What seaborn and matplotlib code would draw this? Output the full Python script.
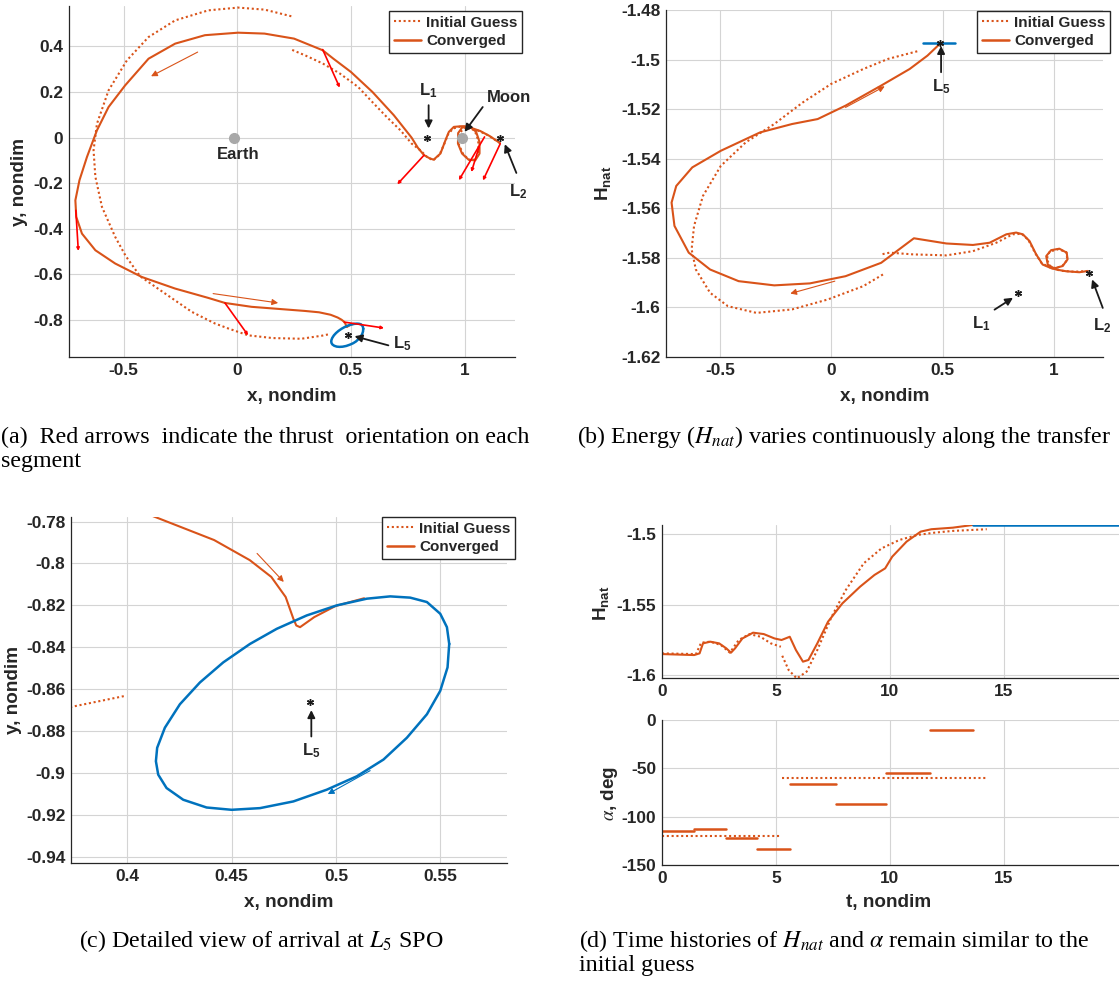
import numpy as np
import pandas as pd
import seaborn as sns
import matplotlib.pyplot as plt
from matplotlib.lines import Line2D

ORANGE = "#D95319"
BLUE = "#0072BD"
RED = "#FF0000"
DARK = "#262626"

# ---------------- data ----------------
# (a) converged transfer, x-y plane, from L2 to the L5 SPO
conv_x = [1.156, 1.112, 1.069, 1.025, 0.990, 0.972, 0.971, 0.989, 1.018, 1.047,
          1.066, 1.066, 1.051, 1.025, 0.989, 0.953, 0.931, 0.916, 0.894, 0.864,
          0.845, 0.822, 0.795, 0.767, 0.689, 0.595, 0.500, 0.423, 0.376, 0.250,
          0.120, 0.004, -0.142, -0.273, -0.390, -0.493, -0.566, -0.617, -0.661, -0.694,
          -0.712, -0.708, -0.683, -0.624, -0.537, -0.420, -0.273, -0.127, -0.054, 0.063,
          0.180, 0.297, 0.360, 0.4108, 0.4416, 0.4587, 0.4690, 0.4759, 0.4796, 0.4810,
          0.4828, 0.4896, 0.4998, 0.5135]
conv_y = [-0.024, 0.006, 0.029, 0.044, 0.045, 0.020, -0.026, -0.070, -0.097, -0.100,
          -0.070, -0.019, 0.025, 0.048, 0.050, 0.047, 0.025, -0.012, -0.070, -0.097,
          -0.090, -0.077, -0.045, 0.000, 0.098, 0.200, 0.288, 0.346, 0.383, 0.434,
          0.456, 0.460, 0.449, 0.412, 0.346, 0.229, 0.134, 0.032, -0.085, -0.187,
          -0.275, -0.348, -0.421, -0.494, -0.552, -0.611, -0.662, -0.703, -0.725, -0.742,
          -0.751, -0.760, -0.766, -0.7768, -0.7888, -0.7984, -0.8064, -0.8160, -0.8264, -0.8296,
          -0.8304, -0.8256, -0.8203, -0.8166]

# (a) initial guess, two arcs
guess1_x = [1.156, 1.100, 1.050, 1.000, 0.975, 0.975, 0.995, 1.025, 1.050, 1.062,
            1.060, 1.045, 1.015, 0.980, 0.950, 0.928, 0.912, 0.890, 0.862, 0.835,
            0.806, 0.767, 0.720, 0.657, 0.600, 0.532, 0.450, 0.376, 0.300, 0.238]
guess1_y = [-0.024, 0.012, 0.035, 0.045, 0.015, -0.030, -0.075, -0.100, -0.095, -0.060,
            -0.010, 0.030, 0.048, 0.048, 0.040, 0.015, -0.025, -0.075, -0.100, -0.085,
            -0.056, -0.026, 0.030, 0.091, 0.150, 0.222, 0.282, 0.325, 0.360, 0.386]
guess2_x = [0.238, 0.121, 0.004, -0.127, -0.273, -0.390, -0.485, -0.566, -0.617, -0.632,
            -0.624, -0.595, -0.537, -0.490, -0.427, -0.317, -0.200, -0.098, -0.039, 0.048,
            0.156, 0.282, 0.373, 0.399]
guess2_y = [0.532, 0.561, 0.570, 0.558, 0.514, 0.441, 0.339, 0.207, 0.061, -0.056,
            -0.172, -0.304, -0.435, -0.520, -0.608, -0.684, -0.764, -0.815, -0.837, -0.867,
            -0.879, -0.882, -0.8685, -0.8632]

# L5 short period orbit
spo_x = [0.5543, 0.5532, 0.5500, 0.5436, 0.5356, 0.5260, 0.5148, 0.5004, 0.4860, 0.4716,
         0.4588, 0.4460, 0.4348, 0.4252, 0.4180, 0.4143, 0.4137, 0.4148, 0.4188, 0.4268,
         0.4380, 0.4500, 0.4636, 0.4796, 0.4956, 0.5100, 0.5228, 0.5340, 0.5436, 0.5500,
         0.5535, 0.5543]
spo_y = [-0.8384, -0.8304, -0.8240, -0.8184, -0.8163, -0.8157, -0.8168, -0.8200, -0.8248, -0.8312,
         -0.8384, -0.8472, -0.8568, -0.8672, -0.8784, -0.8880, -0.8944, -0.9008, -0.9072, -0.9128,
         -0.9165, -0.9176, -0.9168, -0.9136, -0.9080, -0.9016, -0.8936, -0.8832, -0.8720, -0.8608,
         -0.8496, -0.8384]
spo_H = -1.4934

# thrust directions (red) on each converged segment
thrust_x0 = [0.376, 0.822, 1.157, 1.088, 1.064, -0.710, -0.054, 0.471]
thrust_y0 = [0.386, -0.077, -0.027, 0.003, -0.041, -0.319, -0.725, -0.809]
thrust_x1 = [0.451, 0.704, 1.081, 0.975, 1.030, -0.699, 0.048, 0.646]
thrust_y1 = [0.219, -0.205, -0.188, -0.187, -0.151, -0.497, -0.867, -0.835]

# libration points / primaries
L_x = {"L1": 0.8369, "L2": 1.1557, "L5": 0.4878}
L_y = {"L1": 0.0, "L2": 0.0, "L5": -0.866}
earth_x, moon_x = -0.0122, 0.9878

# (b) energy vs x
convH_x = [1.152, 1.114, 1.054, 1.009, 0.972, 0.965, 0.987, 1.024, 1.057, 1.061,
           1.039, 0.994, 0.949, 0.920, 0.890, 0.860, 0.830, 0.786, 0.711, 0.636,
           0.517, 0.371, 0.224, 0.064, -0.096, -0.256, -0.416, -0.544, -0.640, -0.704,
           -0.717, -0.696, -0.624, -0.496, -0.320, -0.176, -0.061, 0.064, 0.224, 0.352,
           0.432, 0.480, 0.493]
convH = [-1.5853, -1.5858, -1.5854, -1.5847, -1.5827, -1.5793, -1.5769, -1.5763, -1.5779, -1.5806,
         -1.5833, -1.5844, -1.5827, -1.5786, -1.5732, -1.5705, -1.5698, -1.5705, -1.5739, -1.5748,
         -1.5742, -1.5721, -1.5820, -1.5874, -1.5903, -1.5911, -1.5894, -1.5847, -1.5779, -1.5671,
         -1.5577, -1.5510, -1.5435, -1.5368, -1.5294, -1.5260, -1.5240, -1.5186, -1.5105, -1.5038,
         -1.4984, -1.4943, -1.4934]
guessH1_x = [1.152, 1.090, 1.030, 0.985, 0.967, 0.980, 1.020, 1.055, 1.060, 1.035,
             0.990, 0.945, 0.915, 0.885, 0.855, 0.815, 0.741, 0.636, 0.517, 0.367,
             0.262, 0.225]
guessH1 = [-1.5853, -1.5856, -1.5852, -1.5838, -1.5805, -1.5775, -1.5765, -1.5777, -1.5808, -1.5835,
           -1.5842, -1.5822, -1.5780, -1.5728, -1.5703, -1.5705, -1.5739, -1.5773, -1.5790, -1.5786,
           -1.5779, -1.5786]
guessH2_x = [0.232, 0.144, -0.016, -0.176, -0.336, -0.464, -0.544, -0.608, -0.627, -0.616,
             -0.576, -0.496, -0.384, -0.256, -0.128, 0.000, 0.144, 0.256, 0.397]
guessH2 = [-1.5867, -1.5914, -1.5968, -1.6008, -1.6022, -1.5995, -1.5941, -1.5847, -1.5766, -1.5671,
           -1.5550, -1.5429, -1.5334, -1.5260, -1.5173, -1.5098, -1.5038, -1.4997, -1.4964]
L_H = {"L1": -1.5941, "L2": -1.5860, "L5": -1.4934}

# (d) time histories
t_conv = [0.00, 1.41, 1.65, 1.80, 2.12, 2.51, 2.82, 3.03, 3.21, 3.53,
          4.00, 4.47, 4.94, 5.25, 5.61, 5.88, 6.19, 6.43, 6.82, 7.29,
          7.92, 8.70, 9.33, 9.80, 10.11, 10.74, 11.36, 11.83, 12.77, 13.64]
H_conv = [-1.5851, -1.5858, -1.5846, -1.5775, -1.5763, -1.5775, -1.5810, -1.5841, -1.5810, -1.5740,
          -1.5699, -1.5709, -1.5740, -1.5751, -1.5728, -1.5822, -1.5905, -1.5893, -1.5775, -1.5621,
          -1.5491, -1.5372, -1.5289, -1.5242, -1.5159, -1.5052, -1.4981, -1.4964, -1.4953, -1.4934]
t_guess1 = [0.00, 1.49, 1.72, 2.12, 2.59, 2.98, 3.37, 3.84, 4.31, 4.78, 5.22]
H_guess1 = [-1.5846, -1.5851, -1.5770, -1.5763, -1.5787, -1.5841, -1.5751, -1.5709, -1.5727, -1.5775, -1.5799]
t_guess2 = [5.28, 5.56, 5.92, 6.35, 6.82, 7.45, 8.07, 8.86, 9.64, 10.43, 11.21, 11.99, 12.77, 14.26]
H_guess2 = [-1.5863, -1.5964, -1.6024, -1.5976, -1.5822, -1.5585, -1.5396, -1.5206, -1.5100, -1.5040,
            -1.5005, -1.4988, -1.4976, -1.4964]
t_spo = [13.64, 22.0]

seg_t0 = [0.00, 1.41, 2.79, 4.18, 5.64, 7.63, 9.83, 11.76]
seg_t1 = [1.41, 2.79, 4.18, 5.64, 7.63, 9.83, 11.76, 13.64]
seg_alpha = [-115, -113, -122.5, -133, -66.5, -87, -55, -10]
gseg_t0 = [0.00, 5.28]
gseg_t1 = [5.22, 14.26]
gseg_alpha = [-120, -60]

# ---------------- style ----------------
sns.set_theme(style="whitegrid")
plt.rcParams["font.family"] = ["Liberation Sans", "DejaVu Sans"]
plt.rcParams["mathtext.fontset"] = "custom"
plt.rcParams["mathtext.rm"] = "Liberation Sans:bold"
plt.rcParams["mathtext.bf"] = "Liberation Sans:bold"
plt.rcParams["mathtext.it"] = "Liberation Sans:bold:italic"

W, H = 1119, 986
fig = plt.figure(figsize=(W / 100, H / 100), dpi=100)


def box(l, t, r, b):
    return [l / W, 1 - b / H, (r - l) / W, (b - t) / H]


def style(ax, xt, xl, yt, yl):
    ax.set_facecolor("white")
    ax.set_xticks(xt)
    ax.set_xticklabels(xl)
    ax.set_yticks(yt)
    ax.set_yticklabels(yl)
    ax.grid(True, color="#d4d4d4", lw=0.8)
    for s in ["top", "right"]:
        ax.spines[s].set_visible(False)
    for s in ["left", "bottom"]:
        ax.spines[s].set_color(DARK)
        ax.spines[s].set_linewidth(0.9)
    ax.tick_params(direction="in", length=3, width=0.6, colors=DARK,
                   labelsize=12.4, pad=4)
    for lab in ax.get_xticklabels() + ax.get_yticklabels():
        lab.set_fontweight("bold")


def line(ax, x, y, color, ls="-", lw=1.5):
    sns.lineplot(x=x, y=y, ax=ax, sort=False, estimator=None, color=color,
                 linestyle=ls, linewidth=lw, legend=False)


DOT = (0, (1, 1.3))


def legend(ax, right, top):
    h = [Line2D([], [], color=ORANGE, ls=DOT, lw=1.5),
         Line2D([], [], color=ORANGE, lw=1.8)]
    lg = ax.legend(h, ["Initial Guess", "Converged"], loc="upper right",
                   bbox_to_anchor=(right / W, 1 - top / H), bbox_transform=fig.transFigure,
                   fancybox=False, framealpha=1, edgecolor=DARK, fontsize=11,
                   handlelength=1.8, handletextpad=0.3, borderpad=0.3,
                   labelspacing=0.3, borderaxespad=0)
    lg.get_frame().set_linewidth(1.0)
    for t in lg.get_texts():
        t.set_fontweight("bold")


def arrow(ax, tail, head, color="k", lw=1.3, scale=11):
    ax.annotate("", xy=head, xytext=tail,
                arrowprops=dict(arrowstyle="-|>", color=color, lw=lw,
                                mutation_scale=scale, shrinkA=0, shrinkB=0))


def star(ax, x, y):
    ax.plot(x, y, marker=(6, 2, 0), ms=5, color="k", mew=1, ls="none")


def note(ax, x, y, s):
    ax.text(x, y, s, ha="center", va="center", fontsize=12, fontweight="bold")


xt_a = [-0.5, 0, 0.5, 1]
xl_a = ["-0.5", "0", "0.5", "1"]

# ---------------- (a) ----------------
ax = fig.add_axes(box(69, 6, 515, 357))
line(ax, guess1_x, guess1_y, ORANGE, DOT)
line(ax, guess2_x, guess2_y, ORANGE, DOT)
line(ax, conv_x, conv_y, ORANGE)
line(ax, spo_x, spo_y, BLUE, lw=1.8)
for x0, y0, x1, y1 in zip(thrust_x0, thrust_y0, thrust_x1, thrust_y1):
    ax.annotate("", xy=(x1, y1), xytext=(x0, y0),
                arrowprops=dict(arrowstyle="-|>", color=RED, lw=1.2,
                                mutation_scale=4, shrinkA=0, shrinkB=0))
ax.plot([earth_x, moon_x], [0, 0], "o", color="#a8a8a8", ms=7, zorder=5)
for k in ["L1", "L2", "L5"]:
    star(ax, L_x[k], L_y[k])
arrow(ax, (-0.174, 0.375), (-0.379, 0.269), ORANGE, lw=0.8, scale=9)
arrow(ax, (-0.106, -0.684), (0.180, -0.725), ORANGE, lw=0.8, scale=9)
note(ax, 0.003, -0.073, "Earth")
note(ax, 1.196, 0.175, "Moon")
arrow(ax, (1.08, 0.134), (1.0, 0.025))
note(ax, 0.842, 0.205, r"$\mathbf{L_1}$")
arrow(ax, (0.842, 0.142), (0.842, 0.04))
note(ax, 1.235, -0.235, r"$\mathbf{L_2}$")
arrow(ax, (1.228, -0.155), (1.177, -0.029))
note(ax, 0.725, -0.905, r"$\mathbf{L_5}$")
arrow(ax, (0.665, -0.911), (0.516, -0.871))
ax.set_xlim(-0.74, 1.222)
ax.set_ylim(-0.962, 0.577)
style(ax, xt_a, xl_a, [-0.8, -0.6, -0.4, -0.2, 0, 0.2, 0.4],
      ["-0.8", "-0.6", "-0.4", "-0.2", "0", "0.2", "0.4"])
legend(ax, 522, 11)

# ---------------- (b) ----------------
ax = fig.add_axes(box(666, 10, 1103, 357))
line(ax, guessH1_x, guessH1, ORANGE, DOT)
line(ax, guessH2_x, guessH2, ORANGE, DOT)
line(ax, convH_x, convH, ORANGE)
line(ax, [min(spo_x), max(spo_x)], [spo_H, spo_H], BLUE, lw=1.8)
for k in ["L1", "L2", "L5"]:
    star(ax, L_x[k], L_H[k])
arrow(ax, (0.064, -1.5193), (0.24, -1.5108), ORANGE, lw=0.8, scale=9)
arrow(ax, (0.016, -1.5894), (-0.184, -1.5944), ORANGE, lw=0.8, scale=9)
note(ax, 0.493, -1.5108, r"$\mathbf{L_5}$")
arrow(ax, (0.493, -1.5051), (0.493, -1.4945))
note(ax, 0.672, -1.6065, r"$\mathbf{L_1}$")
arrow(ax, (0.733, -1.6009), (0.816, -1.5961))
note(ax, 1.216, -1.6072, r"$\mathbf{L_2}$")
arrow(ax, (1.219, -1.6002), (1.171, -1.5887))
ax.set_xlim(-0.742, 1.22)
ax.set_ylim(-1.62, -1.48)
style(ax, xt_a, xl_a, [-1.62, -1.6, -1.58, -1.56, -1.54, -1.52, -1.5, -1.48],
      ["-1.62", "-1.6", "-1.58", "-1.56", "-1.54", "-1.52", "-1.5", "-1.48"])
legend(ax, 1110, 11)

# ---------------- (c) ----------------
ax = fig.add_axes(box(71, 517, 507, 863))
line(ax, guess2_x, guess2_y, ORANGE, DOT)
line(ax, conv_x, conv_y, ORANGE)
line(ax, spo_x, spo_y, BLUE, lw=1.8)
star(ax, L_x["L5"], L_y["L5"])
arrow(ax, (0.4622, -0.7952), (0.4750, -0.8088), ORANGE, lw=0.8, scale=9)
arrow(ax, (0.5164, -0.8989), (0.4961, -0.9101), BLUE, lw=0.8, scale=9)
note(ax, 0.4882, -0.8895, r"$\mathbf{L_5}$")
arrow(ax, (0.4882, -0.8826), (0.4882, -0.8700))
ax.set_xlim(0.373, 0.582)
ax.set_ylim(-0.943, -0.7778)
style(ax, [0.4, 0.45, 0.5, 0.55], ["0.4", "0.45", "0.5", "0.55"],
      [-0.94, -0.92, -0.9, -0.88, -0.86, -0.84, -0.82, -0.8, -0.78],
      ["-0.94", "-0.92", "-0.9", "-0.88", "-0.86", "-0.84", "-0.82", "-0.8", "-0.78"])
legend(ax, 515, 517)

# ---------------- (d) top ----------------
ax = fig.add_axes(box(662, 525, 1163, 678))
line(ax, t_guess1, H_guess1, ORANGE, DOT)
line(ax, t_guess2, H_guess2, ORANGE, DOT)
line(ax, t_conv, H_conv, ORANGE)
line(ax, t_spo, [spo_H, spo_H], BLUE, lw=1.8)
ax.set_xlim(0, 22)
ax.set_ylim(-1.6021, -1.4934)
style(ax, [0, 5, 10, 15], ["0", "5", "10", "15"], [-1.6, -1.55, -1.5],
      ["-1.6", "-1.55", "-1.5"])

# ---------------- (d) bottom ----------------
ax = fig.add_axes(box(662, 720, 1163, 865))
seg = pd.DataFrame({
    "t": seg_t0 + seg_t1,
    "alpha": seg_alpha + seg_alpha,
    "seg": list(range(len(seg_t0))) * 2,
})
gseg = pd.DataFrame({
    "t": gseg_t0 + gseg_t1,
    "alpha": gseg_alpha + gseg_alpha,
    "seg": list(range(len(gseg_t0))) * 2,
})
sns.lineplot(data=gseg, x="t", y="alpha", units="seg", estimator=None, ax=ax,
             color=ORANGE, linestyle=DOT, linewidth=1.5, legend=False)
sns.lineplot(data=seg, x="t", y="alpha", units="seg", estimator=None, ax=ax,
             color=ORANGE, linewidth=1.8, legend=False)
ax.set_xlim(0, 22)
ax.set_ylim(-150, 0)
style(ax, [0, 5, 10, 15], ["0", "5", "10", "15"], [-150, -100, -50, 0],
      ["-150", "-100", "-50", "0"])

for a in fig.axes:
    a.set_xlabel("")
    a.set_ylabel("")

# ---------------- axis labels ----------------
lab = dict(fontsize=13.6, fontweight="bold", ha="center", va="center", color=DARK)
fig.text(292 / W, 1 - 397 / H, "x, nondim", **lab)
fig.text(20 / W, 1 - 182 / H, "y, nondim", rotation=90, **lab)
fig.text(885 / W, 1 - 397 / H, "x, nondim", **lab)
fig.text(603 / W, 1 - 183 / H, r"$\mathbf{H_{nat}}$", rotation=90, **lab)
fig.text(289 / W, 1 - 903 / H, "x, nondim", **lab)
fig.text(14 / W, 1 - 690 / H, "y, nondim", rotation=90, **lab)
fig.text(601 / W, 1 - 603 / H, r"$\mathbf{H_{nat}}$", rotation=90, **lab)
fig.text(610 / W, 1 - 793 / H, r"$\alpha$, deg", rotation=90, math_fontfamily="stix", **lab)
fig.text(889 / W, 1 - 903 / H, "t, nondim", **lab)

# ---------------- captions ----------------
cap = dict(fontsize=17.3, fontfamily="Liberation Serif", fontweight="normal",
           ha="left", va="center", color="black", math_fontfamily="stix")
fig.text(1 / W, 1 - 437 / H, "(a)  Red arrows  indicate the thrust  orientation on each", **cap)
fig.text(1 / W, 1 - 462 / H, "segment", **cap)
fig.text(577 / W, 1 - 437 / H, r"(b) Energy ($H_{nat}$) varies continuously along the transfer", **cap)
fig.text(79 / W, 1 - 941 / H, r"(c) Detailed view of arrival at $L_5$ SPO", **cap)
fig.text(579 / W, 1 - 941 / H,
         r"(d) Time histories of $H_{nat}$ and $\alpha$ remain similar to the", **cap)
fig.text(579 / W, 1 - 966 / H, "initial guess", **cap)

plt.savefig("out.png", dpi=100)
